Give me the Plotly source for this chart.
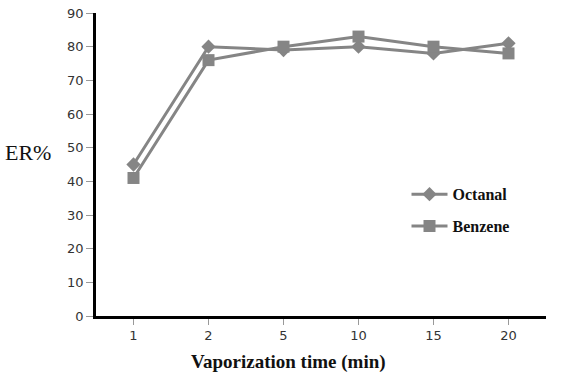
import plotly.graph_objects as go

categories = ["1", "2", "5", "10", "15", "20"]
octanal = [45, 80, 79, 80, 78, 81]
benzene = [41, 76, 80, 83, 80, 78]
y_ticks = [0, 10, 20, 30, 40, 50, 60, 70, 80, 90]

grey = "#858585"
fig = go.Figure()
fig.add_trace(go.Scatter(x=categories, y=octanal, name="<b>Octanal</b>", mode="lines+markers",
                         legendgroup="a",
                         line=dict(color=grey, width=3),
                         marker=dict(symbol="diamond", size=11, color=grey)))
fig.add_trace(go.Scatter(x=categories, y=benzene, name="<b>Benzene</b>", mode="lines+markers",
                         legendgroup="b",
                         line=dict(color=grey, width=3),
                         marker=dict(symbol="square", size=12, color=grey)))

fig.update_layout(
    width=579, height=381,
    margin=dict(l=96, r=33, t=13, b=65, autoexpand=False),
    paper_bgcolor="white", plot_bgcolor="white",
    showlegend=True,
    legend=dict(x=0.69, y=0.458, xanchor="left", yanchor="top",
                font=dict(family="Liberation Serif", size=16, color="#111111"),
                bgcolor="rgba(0,0,0,0)", itemwidth=36, tracegroupgap=8),
    xaxis=dict(type="category", range=[-0.5, 5.5], showgrid=False, automargin=False,
               showline=True, linecolor="black", linewidth=2.5,
               ticks="outside", ticklen=6, tickcolor="#999999",
               tickfont=dict(family="DejaVu Sans", size=13, color="#333333")),
    yaxis=dict(range=[0, 90], tickvals=y_ticks, showgrid=False, zeroline=False, automargin=False,
               showline=True, linecolor="black", linewidth=2.5,
               ticks="outside", ticklen=7, tickcolor="#999999",
               tickfont=dict(family="DejaVu Sans", size=13, color="#333333")),
    annotations=[
        dict(text="ER%", xref="paper", yref="paper", x=-0.152, y=0.54,
             xanchor="center", yanchor="middle",
             showarrow=False, font=dict(family="Liberation Serif", size=22, color="#111111")),
        dict(text="<b>Vaporization time (min)</b>", xref="paper", yref="paper", x=0.428, y=-0.152,
             xanchor="center", yanchor="middle",
             showarrow=False, font=dict(family="Liberation Serif", size=19, color="#111111")),
    ],
)
fig.write_html("out.html", config={"displayModeBar": False},
               post_script="document.body.style.margin='0';document.body.style.overflow='hidden';")
